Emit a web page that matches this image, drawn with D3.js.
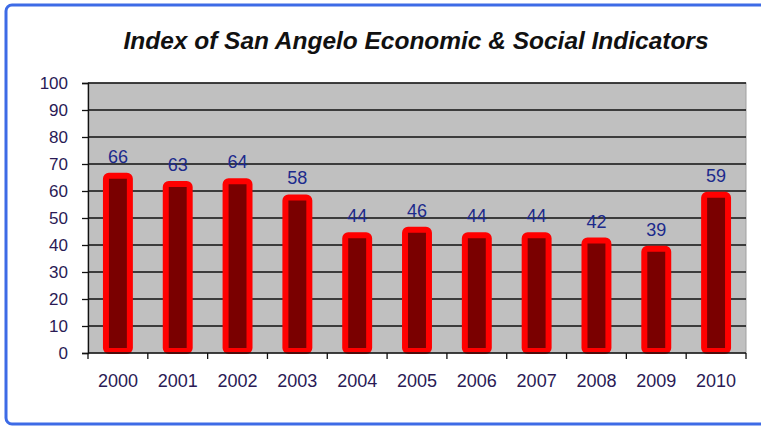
<!DOCTYPE html>
<html><head><meta charset="utf-8">
<script src="https://cdn.jsdelivr.net/npm/d3@7"></script>
<style>body{margin:0;background:#fff;}svg{display:block;}</style>
</head><body>
<script>
const years = ["2000","2001","2002","2003","2004","2005","2006","2007","2008","2009","2010"];
const values = [66,63,64,58,44,46,44,44,42,39,59];
const yTicks = [0,10,20,30,40,50,60,70,80,90,100];
const title = "Index of San Angelo Economic & Social Indicators";

const W = 761, H = 427;
const svg = d3.select("body").append("svg").attr("width", W).attr("height", H);

// frame
svg.append("rect").attr("x", 6).attr("y", 5).attr("width", 780).attr("height", 419)
  .attr("rx", 6).attr("fill", "#fff").attr("stroke", "#3d6be6").attr("stroke-width", 3);

svg.append("text").attr("x", 416).attr("y", 49).attr("text-anchor", "middle")
  .attr("font-family", "Liberation Sans, Arial, sans-serif").attr("font-size", 24)
  .attr("font-weight", "bold").attr("font-style", "italic").attr("fill", "#111")
  .attr("textLength", 585).attr("lengthAdjust", "spacingAndGlyphs")
  .text(title);

const L = 88, R = 746, T = 83, B = 353;
const x = d3.scaleBand().domain(years).range([L, R]).paddingInner(0.6).paddingOuter(0.3);
const xb = d3.scaleBand().domain(years).range([L, R]);
const y = d3.scaleLinear().domain([0, 100]).range([B, T]);

svg.append("rect").attr("x", L).attr("y", T).attr("width", R - L).attr("height", B - T)
  .attr("fill", "#c0c0c0").attr("stroke", "#a0a0a0").attr("stroke-width", 1);

const g = svg.append("g");
g.selectAll("line.grid").data(yTicks.filter(d => d > 0)).enter().append("line")
  .attr("x1", L).attr("x2", R).attr("y1", d => y(d)).attr("y2", d => y(d))
  .attr("stroke", "#111").attr("stroke-width", 1.3);

// y axis
const yAxis = d3.axisLeft(y).tickValues(yTicks).tickSize(6).tickPadding(14);
const ya = svg.append("g").attr("transform", `translate(${L},0)`).call(yAxis);
ya.select(".domain").attr("stroke", "#111").attr("stroke-width", 1.3);
ya.selectAll(".tick line").attr("stroke", "#111").attr("stroke-width", 1.3);
ya.selectAll("text").attr("font-family", "Liberation Sans, Arial, sans-serif")
  .attr("font-size", 17).attr("fill", "#2a1a55");

// bars
svg.selectAll("rect.bar").data(values).enter().append("rect")
  .attr("x", (d, i) => x(years[i]))
  .attr("y", d => y(d) + 1)
  .attr("width", x.bandwidth())
  .attr("height", d => B - y(d) - 3)
  .attr("rx", 3)
  .attr("fill", "#7a0000").attr("stroke", "#ff0000").attr("stroke-width", 6);

// x axis
const xa = svg.append("g").attr("transform", `translate(0,${B})`);
xa.append("line").attr("x1", L).attr("x2", R).attr("stroke", "#111").attr("stroke-width", 1.3);
xa.selectAll("line.t").data(d3.range(years.length + 1)).enter().append("line")
  .attr("x1", i => L + i * xb.step()).attr("x2", i => L + i * xb.step())
  .attr("y1", 0).attr("y2", 6).attr("stroke", "#111").attr("stroke-width", 1.3);
xa.selectAll("text").data(years).enter().append("text")
  .attr("x", d => xb(d) + xb.bandwidth() / 2).attr("y", 34)
  .attr("text-anchor", "middle").attr("font-family", "Liberation Sans, Arial, sans-serif")
  .attr("font-size", 18).attr("fill", "#2a1a55").text(d => d);

// value labels
svg.selectAll("text.val").data(values).enter().append("text")
  .attr("x", (d, i) => xb(years[i]) + xb.bandwidth() / 2)
  .attr("y", d => y(d) - 12)
  .attr("text-anchor", "middle").attr("font-family", "Liberation Sans, Arial, sans-serif")
  .attr("font-size", 18).attr("fill", "#1c2a8c").text(d => d);
</script>
</body></html>
